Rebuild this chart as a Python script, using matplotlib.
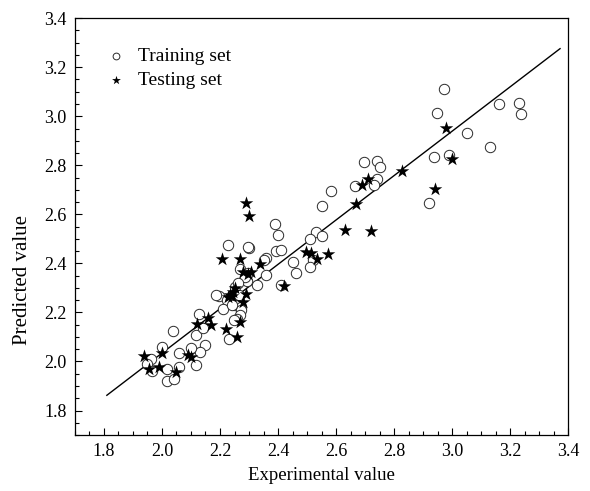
import matplotlib
matplotlib.use("Agg")
import matplotlib.pyplot as plt
from matplotlib.ticker import MultipleLocator
import numpy as np

plt.rcParams["font.family"] = ["Liberation Serif", "DejaVu Serif"]

# training set (circles)
train_x = [2.971, 2.949, 3.161, 3.230, 3.239, 3.051, 3.130, 2.939, 2.989, 2.920,
           2.698, 2.740, 2.751, 2.741, 2.730, 2.667,
           2.583, 2.553, 2.531, 2.553, 2.511, 2.522, 2.510, 2.452, 2.461,
           2.391, 2.400, 2.392, 2.410, 2.409, 2.360, 2.352, 2.359, 2.329,
           2.229, 2.299, 2.296, 2.269, 2.298, 2.292, 2.285, 2.252, 2.198,
           2.223, 2.209, 2.252, 2.273, 2.271, 2.270, 2.257, 2.248, 2.230,
           2.265, 2.240, 2.262, 2.187,
           2.128, 2.118, 2.141, 2.148, 2.130, 2.118, 2.099, 2.059, 2.059,
           2.039, 2.018, 2.018, 2.040, 1.999, 1.961, 1.948, 1.967]
train_y = [3.112, 3.012, 3.049, 3.056, 3.008, 2.931, 2.876, 2.833, 2.842, 2.645,
           2.812, 2.816, 2.795, 2.743, 2.720, 2.716,
           2.695, 2.635, 2.530, 2.510, 2.498, 2.412, 2.385, 2.404, 2.361,
           2.560, 2.517, 2.450, 2.456, 2.310, 2.423, 2.415, 2.351, 2.313,
           2.476, 2.462, 2.468, 2.378, 2.360, 2.328, 2.345, 2.303, 2.269,
           2.249, 2.215, 2.229, 2.222, 2.210, 2.189, 2.174, 2.169, 2.091,
           2.270, 2.232, 2.318, 2.271,
           2.195, 2.107, 2.135, 2.069, 2.037, 1.985, 2.053, 2.035, 1.978,
           2.124, 1.969, 1.920, 1.927, 2.059, 2.010, 1.988, 1.961]

# testing set (stars)
test_x = [2.980, 3.001, 2.940, 2.829, 2.710, 2.689, 2.668, 2.630, 2.720, 2.572,
          2.535, 2.512, 2.498, 2.422, 2.339, 2.308, 2.298, 2.280, 2.268, 2.207,
          2.289, 2.300, 2.290, 2.280, 2.268, 2.260, 2.220, 2.250, 2.245, 2.235,
          2.228, 2.240, 2.170, 2.160, 2.120, 2.100, 2.090, 2.047, 2.000, 1.990,
          1.957, 1.938]
test_y = [2.951, 2.826, 2.703, 2.777, 2.744, 2.720, 2.642, 2.536, 2.533, 2.438,
          2.418, 2.444, 2.448, 2.307, 2.397, 2.366, 2.356, 2.366, 2.419, 2.416,
          2.645, 2.595, 2.275, 2.244, 2.162, 2.101, 2.131, 2.298, 2.285, 2.271,
          2.262, 2.265, 2.148, 2.176, 2.152, 2.019, 2.026, 1.958, 2.035, 1.978,
          1.971, 2.022]

# fitted line
fit_slope = 0.905
fit_intercept = 0.224
fit_x = [1.81, 3.372]

fig = plt.figure(figsize=(5.9, 4.91), dpi=100)
ax = fig.add_axes([0.127, 0.114, 0.836, 0.849])

ax.scatter(train_x, train_y, s=56, facecolors="white", edgecolors="#2a2a2a",
           linewidths=0.7, marker="o", label="Training set", zorder=2)
ax.scatter(test_x, test_y, s=105, color="black", marker="*", linewidths=0,
           label="Testing set", zorder=3)
lx = np.array(fit_x)
ax.plot(lx, fit_slope * lx + fit_intercept, color="black", lw=1.0, zorder=1)

ax.set_xlim(1.7, 3.4)
ax.set_ylim(1.7, 3.4)
ax.xaxis.set_minor_locator(MultipleLocator(0.05))
ax.yaxis.set_minor_locator(MultipleLocator(0.05))
ax.set_xticks(np.arange(1.8, 3.41, 0.2))
ax.set_yticks(np.arange(1.8, 3.41, 0.2))
ax.xaxis.set_major_formatter(plt.FuncFormatter(lambda v, p: f"{v:.1f}"))
ax.yaxis.set_major_formatter(plt.FuncFormatter(lambda v, p: f"{v:.1f}"))
ax.tick_params(which="both", direction="in", top=False, right=False,
               labelsize=13, width=0.8)
ax.tick_params(which="major", length=5, pad=6)
ax.tick_params(which="minor", length=3)
for sp in ax.spines.values():
    sp.set_linewidth(0.9)

ax.set_xlabel("Experimental value", fontsize=13.5, labelpad=5)
ax.set_ylabel("Predicted value", fontsize=15, labelpad=7)
ax.yaxis.set_label_coords(-0.088, 0.372)

ax.legend(loc="upper left", bbox_to_anchor=(0.008, 0.972), frameon=False,
          fontsize=14, handletextpad=0.15, labelspacing=0.35,
          markerscale=0.65, scatterpoints=1)

fig.savefig("out.png", dpi=100)
